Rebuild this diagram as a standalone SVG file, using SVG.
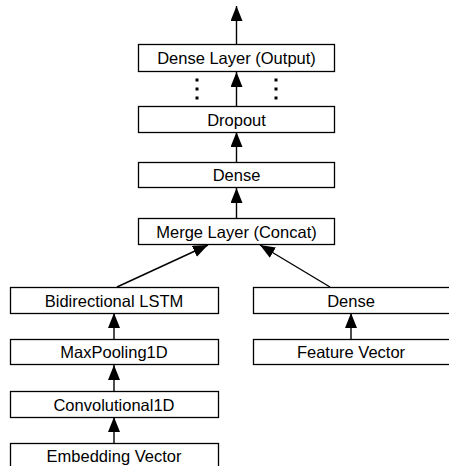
<svg xmlns="http://www.w3.org/2000/svg" width="449" height="466" viewBox="0 0 449 466">
<style>
.box{fill:#fff;stroke:#000;stroke-width:1.3}
.lbl{font-family:"Liberation Sans",Arial,sans-serif;font-size:16.5px;fill:#000;text-anchor:middle}
.edge{stroke:#000;stroke-width:1.4;fill:none;marker-end:url(#ah)}
.dot{fill:#000}
</style>
<defs>
<marker id="ah" markerUnits="userSpaceOnUse" markerWidth="16" markerHeight="13" refX="15" refY="6" orient="auto">
<path d="M0,0 L15,6 L0,12 z" fill="#000"/>
</marker>
</defs>
<rect width="449" height="466" fill="#fff"/>
<g id="connectors">
<line class="edge" x1="236.5" y1="44" x2="236.5" y2="6"/>
<line class="edge" x1="236.5" y1="106" x2="236.5" y2="72"/>
<line class="edge" x1="236.5" y1="162" x2="236.5" y2="132"/>
<line class="edge" x1="236.5" y1="218" x2="236.5" y2="188"/>
<line class="edge" x1="117" y1="287" x2="208" y2="245"/>
<line class="edge" x1="330" y1="287" x2="260" y2="245"/>
<line class="edge" x1="114" y1="339" x2="114" y2="313"/>
<line class="edge" x1="114" y1="391" x2="114" y2="365"/>
<line class="edge" x1="114" y1="443" x2="114" y2="417"/>
<line class="edge" x1="351" y1="339" x2="351" y2="313"/>
</g>
<g id="dots">
<rect class="dot" x="195.5" y="78.5" width="3" height="3"/>
<rect class="dot" x="195.5" y="87.5" width="3" height="3"/>
<rect class="dot" x="195.5" y="96.5" width="3" height="3"/>
<rect class="dot" x="274.5" y="78.5" width="3" height="3"/>
<rect class="dot" x="274.5" y="87.5" width="3" height="3"/>
<rect class="dot" x="274.5" y="96.5" width="3" height="3"/>
</g>
<g id="dense_output">
<rect class="box" x="138.5" y="44.5" width="196" height="27"/>
<text class="lbl" x="236.5" y="64">Dense Layer (Output)</text>
</g>
<g id="dropout">
<rect class="box" x="138.5" y="106.5" width="196" height="26"/>
<text class="lbl" x="236.5" y="125.5">Dropout</text>
</g>
<g id="dense_top">
<rect class="box" x="138.5" y="162.5" width="196" height="25"/>
<text class="lbl" x="236.5" y="181">Dense</text>
</g>
<g id="merge">
<rect class="box" x="138.5" y="218.5" width="196" height="26"/>
<text class="lbl" x="236.5" y="237.5">Merge Layer (Concat)</text>
</g>
<g id="bilstm">
<rect class="box" x="10.5" y="287.5" width="208" height="26"/>
<text class="lbl" x="114" y="306.5">Bidirectional LSTM</text>
</g>
<g id="dense_right">
<rect class="box" x="253.5" y="287.5" width="200" height="26"/>
<text class="lbl" x="351" y="306.5">Dense</text>
</g>
<g id="maxpool">
<rect class="box" x="10.5" y="339.5" width="208" height="25"/>
<text class="lbl" x="114" y="358">MaxPooling1D</text>
</g>
<g id="feature">
<rect class="box" x="253.5" y="339.5" width="200" height="25"/>
<text class="lbl" x="351" y="358">Feature Vector</text>
</g>
<g id="conv">
<rect class="box" x="10.5" y="391.5" width="208" height="26"/>
<text class="lbl" x="114" y="410.5">Convolutional1D</text>
</g>
<g id="embedding">
<rect class="box" x="10.5" y="443.5" width="208" height="30"/>
<text class="lbl" x="114" y="462">Embedding Vector</text>
</g>
</svg>
